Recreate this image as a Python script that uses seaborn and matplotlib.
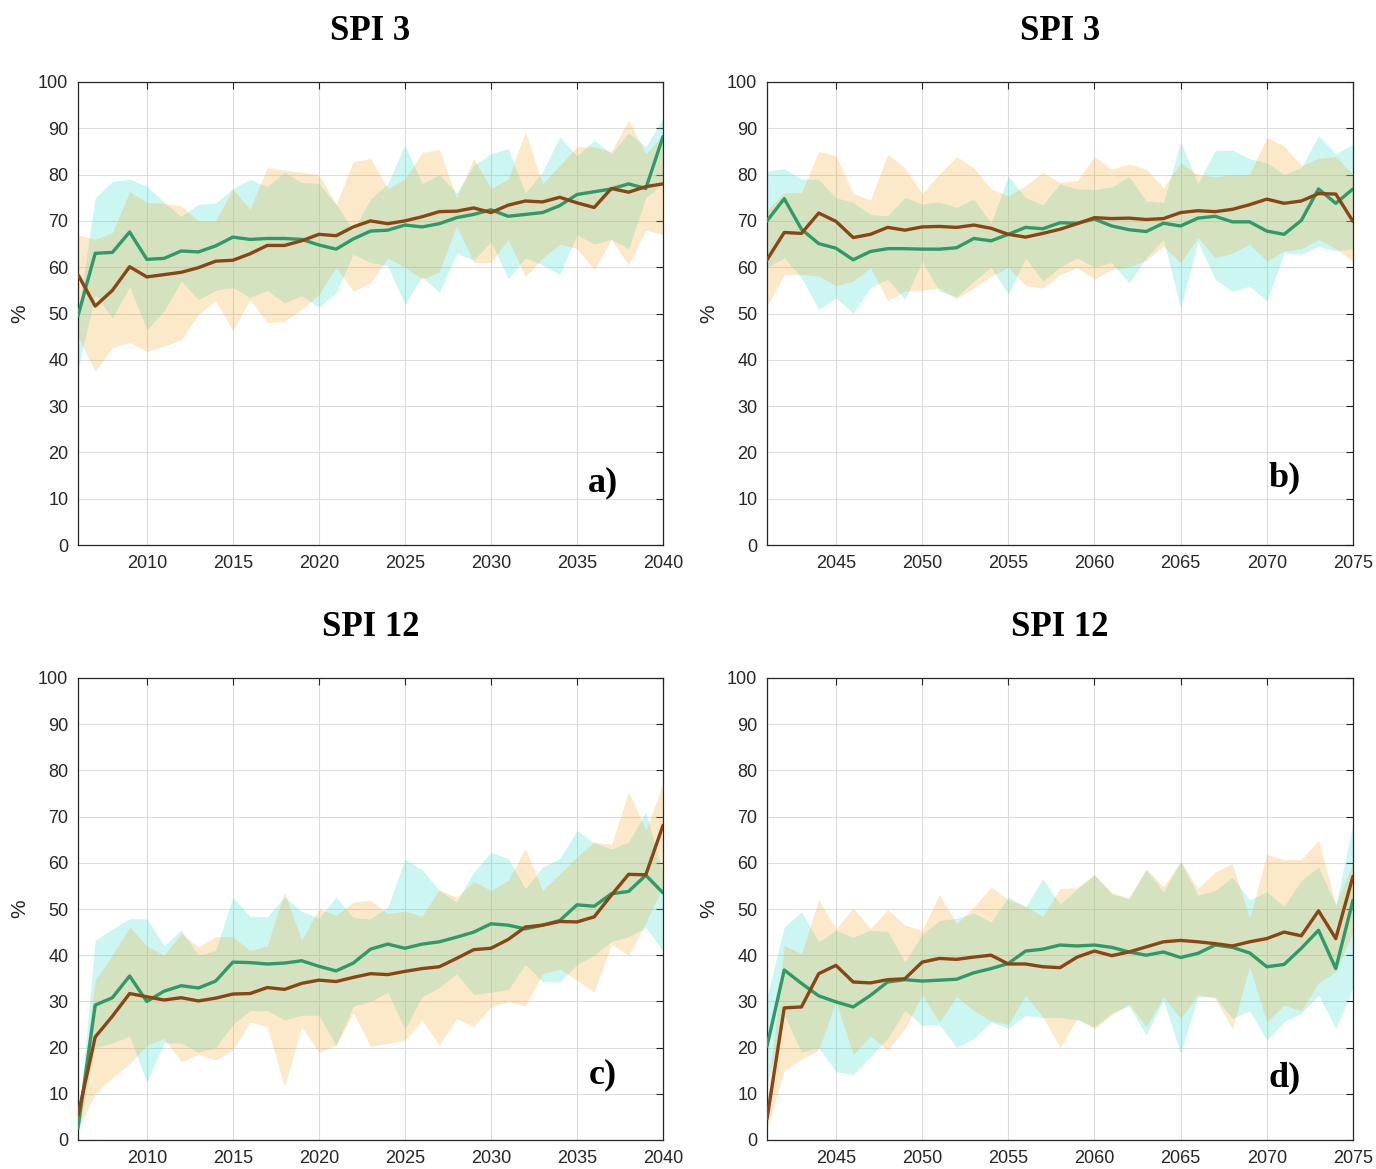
import numpy as np
import pandas as pd
import matplotlib
matplotlib.use("Agg")
import matplotlib.pyplot as plt
import seaborn as sns

# ---------------- data ----------------
years_early = list(range(2006, 2041))
years_late = list(range(2041, 2076))

# Panel a (SPI 3, 2006-2040)
green_a = [49.5, 63.0, 63.2, 67.6, 61.7, 61.9, 63.5, 63.3, 64.6, 66.5, 66.0, 66.2, 66.2, 66.0, 64.8, 63.9, 66.1, 67.8, 68.0, 69.1, 68.7, 69.4, 70.7, 71.4, 72.4, 71.0, 71.4, 71.8, 73.3, 75.7, 76.3, 76.9, 78.0, 77.0, 88.2]
brown_a = [58.4, 51.6, 55.0, 60.1, 57.9, 58.4, 58.9, 59.9, 61.3, 61.5, 62.9, 64.7, 64.7, 65.7, 67.1, 66.8, 68.7, 70.0, 69.4, 70.0, 70.9, 72.0, 72.1, 72.8, 71.8, 73.4, 74.3, 74.1, 75.1, 73.9, 72.9, 77.0, 76.2, 77.4, 78.0]
cyan_hi_a = [50, 75, 78.5, 79, 77.5, 74, 71, 73.6, 73.8, 77, 79, 77.4, 80.5, 78.3, 78.1, 73.6, 68, 74.7, 78, 86.4, 78, 80, 76, 82, 84.5, 85.6, 76, 80.6, 88.2, 84, 87.5, 84.5, 89, 86, 92.2]
cyan_lo_a = [38, 54, 49, 55.8, 46.5, 50.5, 57, 53, 55, 55.6, 53.5, 55, 52.3, 53.8, 51.4, 54.5, 62.8, 61, 60.3, 52, 58, 54.5, 63, 61.5, 65.5, 57.5, 62, 60.5, 58.4, 67, 65, 66, 64, 75, 78]
orange_hi_a = [67, 66, 67.5, 76.3, 74, 73.8, 73.2, 70, 70, 76.9, 72.5, 81.5, 81, 80.5, 80, 73.5, 82.8, 83.5, 77, 79, 84.8, 85.4, 75, 83.5, 77, 79, 89.3, 78, 82, 86, 86, 85, 91.8, 84.5, 88.5]
orange_lo_a = [45, 37.5, 42.6, 43.8, 41.8, 42.9, 44.4, 49.8, 52.8, 46.3, 53, 48, 48.3, 50.9, 54.1, 60, 54.8, 56.6, 62, 60, 57.4, 59, 69, 61, 61, 66, 58, 62, 65, 64, 59.5, 66, 60.5, 68, 67]

# Panel b (SPI 3, 2041-2075)
green_b = [70.0, 74.8, 68.2, 65.1, 64.1, 61.6, 63.4, 64.0, 64.0, 63.9, 63.9, 64.2, 66.2, 65.7, 67.1, 68.6, 68.3, 69.6, 69.5, 70.4, 68.9, 68.1, 67.7, 69.5, 68.9, 70.6, 71.0, 69.8, 69.8, 67.8, 67.1, 70.1, 76.9, 73.8, 76.9]
brown_b = [61.6, 67.5, 67.3, 71.7, 69.9, 66.4, 67.1, 68.6, 68.0, 68.7, 68.8, 68.6, 69.1, 68.4, 67.1, 66.5, 67.3, 68.2, 69.4, 70.7, 70.5, 70.6, 70.3, 70.5, 71.8, 72.2, 72.0, 72.5, 73.5, 74.7, 73.8, 74.3, 75.9, 75.8, 69.9]
cyan_hi_b = [80.8, 81.3, 79, 79, 75, 74, 71.4, 71.1, 75.1, 73.6, 74.1, 72.9, 74.7, 69.5, 79.7, 75, 73.5, 78, 76.9, 76.8, 77.3, 79.6, 74.3, 74, 87, 78, 85.2, 85.3, 83.4, 82.6, 80, 81.5, 88.4, 84.5, 86.6]
cyan_lo_b = [60, 62, 57.7, 50.9, 53.4, 50.1, 55.6, 57.4, 53, 61.3, 54.8, 53.6, 57, 60, 54.2, 62, 57, 60, 62, 60, 61, 56.6, 62, 66, 51.2, 65.5, 57.4, 54.8, 55.9, 52.7, 63, 62.8, 64.5, 63.5, 64]
orange_hi_b = [72.2, 76.1, 76.1, 85, 84.1, 75.9, 74.5, 84.4, 81.4, 75.9, 80.1, 83.9, 81.4, 76.9, 75.4, 77.6, 80.5, 78.3, 78.7, 83.9, 81.2, 82.3, 81.2, 77.2, 82.5, 80, 79.5, 80, 80, 88, 86.2, 81.9, 83.5, 83.9, 80]
orange_lo_b = [51.6, 58.4, 58.4, 58.1, 56, 57, 59.9, 52.8, 54.8, 55, 55.5, 53.2, 55.5, 58, 60, 56, 55.5, 58.4, 59.9, 57.4, 59.5, 60, 61.5, 64.5, 61, 66.4, 62, 63, 65, 61.3, 63.5, 64, 66, 64, 61.3]

# Panel c (SPI 12, 2006-2040)
green_c = [2.6, 29.2, 30.8, 35.5, 30.0, 32.2, 33.4, 32.9, 34.4, 38.5, 38.4, 38.1, 38.3, 38.8, 37.6, 36.6, 38.3, 41.3, 42.4, 41.5, 42.4, 42.9, 43.9, 45.0, 46.8, 46.5, 45.7, 46.5, 47.5, 50.9, 50.6, 53.3, 53.8, 57.3, 53.5]
brown_c = [5.4, 22.3, 26.8, 31.7, 31.0, 30.3, 30.8, 30.1, 30.7, 31.6, 31.7, 33.0, 32.6, 33.9, 34.6, 34.3, 35.2, 36.0, 35.8, 36.5, 37.1, 37.5, 39.3, 41.2, 41.5, 43.4, 46.1, 46.5, 47.3, 47.2, 48.3, 53.0, 57.5, 57.4, 68.1]
cyan_hi_c = [3, 43.2, 45.7, 47.9, 47.9, 42.1, 45.4, 40, 41, 52.5, 48.4, 48.3, 52.6, 49.5, 48, 52.6, 48.1, 47.9, 50.4, 60.7, 58.5, 54, 51.5, 58, 62.3, 60.9, 54.4, 59.1, 60.9, 67, 64.3, 63, 64.5, 71, 57.6]
cyan_lo_c = [1.5, 20, 21, 22.5, 12.5, 21, 21, 19, 20, 25, 28, 28, 26, 27, 27, 20.5, 29, 30, 32, 24, 31, 33, 36, 31.5, 32, 32.5, 38, 34.3, 34.2, 38, 40, 43, 44, 46, 41]
orange_hi_c = [4, 34.6, 40, 46.1, 42, 40, 44.7, 41.8, 44, 44, 41, 42, 53.7, 43.2, 50.1, 48.6, 51.5, 51.9, 49, 49.5, 48.5, 54.2, 52.5, 56, 54, 56.2, 63.1, 54, 57.6, 61.3, 64.5, 64, 75.3, 67, 77.1]
orange_lo_c = [2.5, 10, 13.5, 16.5, 20.5, 22, 17, 18.5, 17.3, 19.5, 25.5, 24.5, 11.5, 24.5, 19, 20.5, 27.5, 20.3, 20.9, 21.6, 25.9, 20.5, 26.3, 24.6, 28.8, 30, 29, 36, 37, 34.6, 32, 42.4, 40, 47, 55]

# Panel d (SPI 12, 2041-2075)
green_d = [20.3, 36.8, 33.9, 31.2, 29.9, 28.8, 31.3, 34.2, 34.7, 34.4, 34.6, 34.8, 36.2, 37.1, 38.2, 40.9, 41.3, 42.2, 42.0, 42.2, 41.7, 40.7, 40.0, 40.7, 39.5, 40.4, 42.2, 41.7, 40.5, 37.5, 38.0, 41.5, 45.4, 37.1, 51.9]
brown_d = [4.6, 28.6, 28.8, 36.0, 37.8, 34.2, 34.0, 34.7, 34.9, 38.5, 39.3, 39.1, 39.6, 40.0, 38.1, 38.1, 37.5, 37.3, 39.6, 40.9, 39.9, 40.7, 41.8, 42.9, 43.2, 42.9, 42.5, 42.0, 42.9, 43.6, 45.0, 44.2, 49.6, 43.6, 57.1]
cyan_hi_d = [31, 46.1, 49.4, 42.9, 45.4, 43.9, 45.4, 45.2, 38.5, 44.5, 47.5, 48, 49.1, 47.2, 52.6, 50.4, 56.6, 51, 54.4, 57.3, 53.3, 52.2, 58.5, 53.7, 60.2, 53, 54, 56.9, 52, 53.7, 50.6, 56.2, 59.1, 50.8, 68.5]
cyan_lo_d = [12, 27, 19, 20, 14.8, 14.2, 18, 22, 28, 24.8, 25, 20, 22, 25.5, 24.2, 27, 26.5, 26.5, 26, 24.5, 27.5, 29, 22.7, 30.3, 18.7, 31, 31, 26.3, 28, 21.6, 25.6, 27.5, 31.3, 24.1, 33]
orange_hi_d = [8, 42.1, 40.3, 52, 45.7, 50.2, 45.7, 49.9, 46.5, 45.4, 53.1, 46.8, 50.4, 54.8, 52, 50.6, 48.4, 54.4, 54.6, 57.5, 53.5, 52.4, 58.7, 54.8, 60.4, 54.4, 58, 59.8, 47.9, 61.8, 60.7, 60.7, 64.9, 51, 60]
orange_lo_d = [2.5, 15, 17.5, 19.5, 30, 18.5, 22.5, 19.5, 24, 31.5, 25.5, 31, 28, 25.8, 25, 31.3, 26.7, 20, 26.3, 24.1, 27, 29.5, 24.5, 31, 26.3, 31.5, 30.6, 24.1, 37.5, 25.6, 29.2, 28, 34, 36.4, 45]

titles = ["SPI 3", "SPI 3", "SPI 12", "SPI 12"]
panel_labels = ["a)", "b)", "c)", "d)"]
xticks_early = [2010, 2015, 2020, 2025, 2030, 2035, 2040]
xticks_late = [2045, 2050, 2055, 2060, 2065, 2070, 2075]
yticks = list(range(0, 101, 10))

# ---------------- style ----------------
sns.set_style("white")
plt.rcParams['font.family'] = ['Liberation Sans', 'DejaVu Sans']

GREEN = "#2f9a68"
BROWN = "#8b4513"
CYAN_FILL = "#40e0d0"
ORANGE_FILL = "#f4a522"
AXCOL = "#262626"
SERIF = ["Liberation Serif", "DejaVu Serif"]

fig = plt.figure(figsize=(13.76, 11.69), dpi=100)
W, H = 1376, 1169
boxes = [(78, 82, 663, 545), (767, 82, 1353, 545),
         (78, 678, 663, 1140), (767, 678, 1353, 1140)]
label_pos = [(0.897, 0.134), (0.884, 0.145), (0.897, 0.141), (0.884, 0.134)]

panels = [
    (years_early, green_a, brown_a, cyan_lo_a, cyan_hi_a, orange_lo_a, orange_hi_a, xticks_early),
    (years_late, green_b, brown_b, cyan_lo_b, cyan_hi_b, orange_lo_b, orange_hi_b, xticks_late),
    (years_early, green_c, brown_c, cyan_lo_c, cyan_hi_c, orange_lo_c, orange_hi_c, xticks_early),
    (years_late, green_d, brown_d, cyan_lo_d, cyan_hi_d, orange_lo_d, orange_hi_d, xticks_late),
]

for i, (box, p) in enumerate(zip(boxes, panels)):
    x0, y0, x1, y1 = box
    ax = fig.add_axes([x0 / W, 1 - y1 / H, (x1 - x0) / W, (y1 - y0) / H])
    yrs, g, b, clo, chi, olo, ohi, xt = p
    df = pd.DataFrame({"year": yrs, "green": g, "brown": b,
                       "clo": clo, "chi": chi, "olo": olo, "ohi": ohi})
    ax.fill_between(df["year"], df["clo"], df["chi"], color=CYAN_FILL,
                    alpha=0.27, linewidth=0, zorder=1)
    ax.fill_between(df["year"], df["olo"], df["ohi"], color=ORANGE_FILL,
                    alpha=0.24, linewidth=0, zorder=2)
    sns.lineplot(data=df, x="year", y="green", color=GREEN, linewidth=2.4,
                 ax=ax, zorder=3)
    sns.lineplot(data=df, x="year", y="brown", color=BROWN, linewidth=2.4,
                 ax=ax, zorder=4)
    ax.set_xlim(yrs[0], yrs[-1])
    ax.set_ylim(0, 100)
    ax.set_xticks(xt)
    ax.set_yticks(yticks)
    ax.grid(True, color="#dcdcdc", linewidth=0.8)
    ax.set_axisbelow(True)
    for s in ax.spines.values():
        s.set_color(AXCOL)
        s.set_linewidth(0.9)
    ax.tick_params(direction="in", top=True, right=True, length=5,
                   width=0.8, color=AXCOL, labelsize=13, labelcolor=AXCOL, pad=7)
    ax.set_xlabel("")
    ax.set_ylabel("%", fontsize=15, color=AXCOL, labelpad=6)
    ax.set_title(titles[i], fontsize=25, fontweight="bold", family=SERIF,
                 color="black", pad=30)
    lx, ly = label_pos[i]
    ax.text(lx, ly, panel_labels[i], transform=ax.transAxes,
            fontsize=26, fontweight="bold", family=SERIF,
            ha="center", va="center", color="black")

fig.savefig("out.png", dpi=100, facecolor="white")
